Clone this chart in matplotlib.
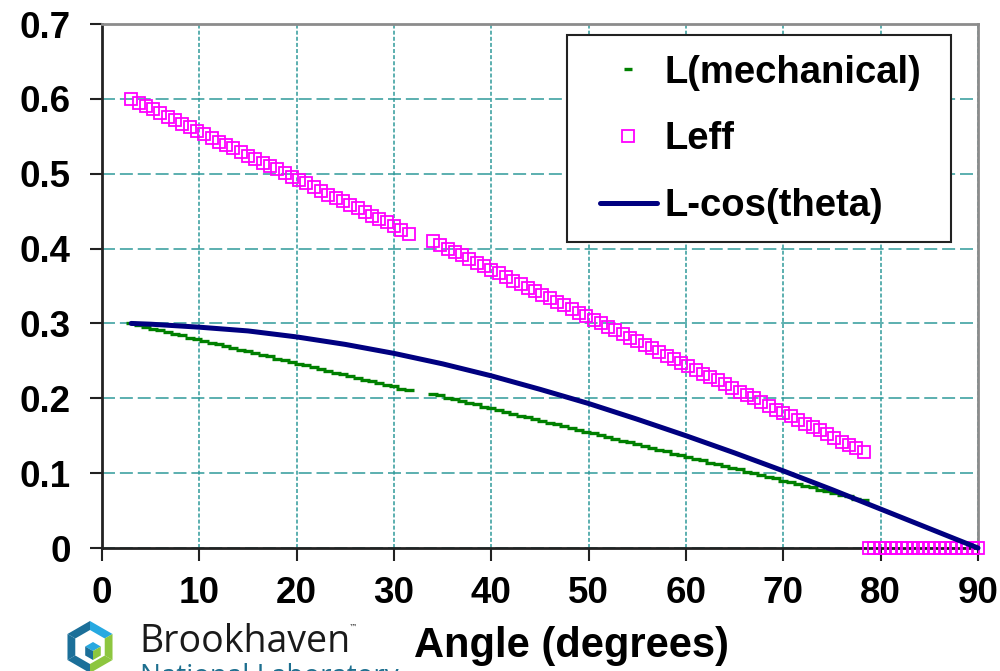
import numpy as np
import matplotlib
matplotlib.use("Agg")
import matplotlib.pyplot as plt
from matplotlib.lines import Line2D
from matplotlib.patches import Polygon, Rectangle

plt.rcParams['font.family'] = ['Liberation Sans', 'DejaVu Sans']
plt.rcParams['font.weight'] = 'bold'

# angle (deg), first run of samples
ang_a = [3.00, 3.75, 4.50, 5.25, 6.00, 6.75, 7.50, 8.25, 9.00, 9.75,
         10.50, 11.25, 12.00, 12.75, 13.50, 14.25, 15.00, 15.75, 16.50, 17.25,
         18.00, 18.75, 19.50, 20.25, 21.00, 21.75, 22.50, 23.25, 24.00, 24.75,
         25.50, 26.25, 27.00, 27.75, 28.50, 29.25, 30.00, 30.75, 31.50]
lmech_a = [0.300, 0.298, 0.295, 0.293, 0.291, 0.288, 0.286, 0.284, 0.281, 0.279,
           0.277, 0.274, 0.272, 0.270, 0.267, 0.265, 0.263, 0.260, 0.258, 0.256,
           0.253, 0.251, 0.249, 0.246, 0.244, 0.242, 0.239, 0.237, 0.234, 0.232,
           0.230, 0.227, 0.225, 0.223, 0.220, 0.218, 0.216, 0.213, 0.211]
leff_a = [0.600, 0.595, 0.591, 0.586, 0.581, 0.576, 0.572, 0.567, 0.562, 0.557,
          0.553, 0.548, 0.543, 0.539, 0.534, 0.529, 0.524, 0.520, 0.515, 0.510,
          0.506, 0.501, 0.496, 0.491, 0.487, 0.482, 0.477, 0.472, 0.468, 0.463,
          0.458, 0.454, 0.449, 0.444, 0.439, 0.435, 0.430, 0.425, 0.420]

# second run of samples
ang_b = [34.00, 34.75, 35.50, 36.25, 37.00, 37.75, 38.50, 39.25, 40.00, 40.75,
         41.50, 42.25, 43.00, 43.75, 44.50, 45.25, 46.00, 46.75, 47.50, 48.25,
         49.00, 49.75, 50.50, 51.25, 52.00, 52.75, 53.50, 54.25, 55.00, 55.75,
         56.50, 57.25, 58.00, 58.75, 59.50, 60.25, 61.00, 61.75, 62.50, 63.25,
         64.00, 64.75, 65.50, 66.25, 67.00, 67.75, 68.50, 69.25, 70.00, 70.75,
         71.50, 72.25, 73.00, 73.75, 74.50, 75.25, 76.00, 76.75, 77.50, 78.25]
lmech_b = [0.206, 0.204, 0.201, 0.199, 0.196, 0.194, 0.192, 0.189, 0.187, 0.184,
           0.182, 0.179, 0.177, 0.175, 0.172, 0.170, 0.167, 0.165, 0.163, 0.160,
           0.158, 0.155, 0.153, 0.151, 0.148, 0.146, 0.143, 0.141, 0.139, 0.136,
           0.134, 0.131, 0.129, 0.126, 0.124, 0.122, 0.119, 0.117, 0.114, 0.112,
           0.110, 0.107, 0.105, 0.102, 0.100, 0.098, 0.095, 0.093, 0.090, 0.088,
           0.085, 0.083, 0.081, 0.078, 0.076, 0.073, 0.071, 0.069, 0.066, 0.064]
leff_b = [0.410, 0.405, 0.400, 0.396, 0.391, 0.386, 0.381, 0.377, 0.372, 0.367,
          0.362, 0.357, 0.353, 0.348, 0.343, 0.338, 0.334, 0.329, 0.324, 0.319,
          0.314, 0.310, 0.305, 0.300, 0.295, 0.291, 0.286, 0.281, 0.276, 0.271,
          0.267, 0.262, 0.257, 0.252, 0.247, 0.243, 0.238, 0.233, 0.228, 0.224,
          0.219, 0.214, 0.209, 0.204, 0.200, 0.195, 0.190, 0.185, 0.181, 0.176,
          0.171, 0.166, 0.161, 0.157, 0.152, 0.147, 0.142, 0.138, 0.133, 0.128]

# Leff past the end of travel
ang_c = [78.80, 79.36, 79.92, 80.48, 81.04, 81.60, 82.16, 82.72, 83.28, 83.84,
         84.40, 84.96, 85.52, 86.08, 86.64, 87.20, 87.76, 88.32, 88.88, 89.44, 90.00]
leff_c = [0.0] * len(ang_c)

# L*cos(theta) curve
ang_cos = [3, 5, 10, 15, 20, 25, 30, 35, 40, 45, 50, 55, 60, 65, 70, 75, 80, 85, 90]
lcos = [0.300, 0.299, 0.295, 0.290, 0.282, 0.272, 0.260, 0.246, 0.230, 0.212,
        0.193, 0.172, 0.150, 0.127, 0.103, 0.078, 0.052, 0.026, 0.000]

xticks = [0, 10, 20, 30, 40, 50, 60, 70, 80, 90]
yticks = [0, 0.1, 0.2, 0.3, 0.4, 0.5, 0.6, 0.7]
ytick_labels = ['0', '0.1', '0.2', '0.3', '0.4', '0.5', '0.6', '0.7']

green = '#008000'
pink = '#ff00ff'
navy = '#000080'
teal = '#2f9a9a'

fig = plt.figure(figsize=(10, 6.71), dpi=100)
ax = fig.add_axes([0.102, 0.1833, 0.876, 0.7809])

ax.set_xlim(0, 90)
ax.set_ylim(0, 0.7)

# grid: long dashes across, short dashes up
ax.yaxis.grid(True, color=teal, lw=1.1, linestyle=(0, (8.5, 3.2)))
ax.xaxis.grid(True, color=teal, lw=1.1, linestyle=(0, (2.6, 1.4)))
ax.set_axisbelow(True)

# L(mechanical): short dash markers packed into a stepped line
for xs, ys in [(ang_a, lmech_a), (ang_b, lmech_b)]:
    ax.plot(xs, ys, ls='none', marker='_', ms=6.5, mew=2.4, color=green, zorder=3)

# Leff: open squares
for xs, ys in [(ang_a, leff_a), (ang_b, leff_b), (ang_c, leff_c)]:
    ax.plot(xs, ys, ls='none', marker='s', ms=8.3, mew=1.3, mfc='none',
            mec=pink, zorder=4, clip_on=False)

ax.plot(ang_cos, lcos, color=navy, lw=3.6, solid_capstyle='round', zorder=5,
        clip_on=False)

ax.set_xticks(xticks)
ax.set_yticks(yticks)
ax.set_yticklabels(ytick_labels)
ax.tick_params(axis='both', direction='out', labelsize=26.5, width=1.5, color='#222222')
ax.tick_params(axis='y', length=8.5, pad=14)
ax.tick_params(axis='x', length=9, pad=11)
for lbl in ax.get_xticklabels() + ax.get_yticklabels():
    lbl.set_fontweight('bold')

for side in ['left', 'bottom']:
    ax.spines[side].set_color('#222222')
    ax.spines[side].set_linewidth(2)
for side in ['top', 'right']:
    ax.spines[side].set_color('#8c8c8c')
    ax.spines[side].set_linewidth(2)

# legend box drawn separately so its padding can differ per side
box = Rectangle((0.567, 0.6393), 0.384, 0.3085, transform=fig.transFigure,
                facecolor='white', edgecolor='#222222', lw=1.5, zorder=6)
ax.add_patch(box)

handles = [
    Line2D([], [], ls='none', marker='_', ms=6, mew=2.4, color=green),
    Line2D([], [], ls='none', marker='s', ms=9, mew=1.3, mfc='none', mec=pink),
    Line2D([], [], color=navy, lw=3.6, solid_capstyle='round'),
]
leg = ax.legend(handles, ['L(mechanical)', 'Leff', 'L-cos(theta)'],
                loc='upper right', bbox_to_anchor=(0.969, 0.998),
                borderaxespad=0, frameon=False,
                prop={'size': 27.5, 'weight': 'bold'},
                handlelength=1.5, handletextpad=0.19, labelspacing=0.8,
                borderpad=0.78)
leg.set_zorder(7)

fig.text(0.571, 0.038, 'Angle (degrees)', ha='center', va='center',
         fontsize=30, fontweight='bold')

# lab logo at the foot of the figure
lax = fig.add_axes([0, 0, 1, 1], zorder=-1)
lax.set_xlim(0, 1000)
lax.set_ylim(671, 0)
lax.axis('off')


def hexpts(cx, cy, r):
    a = np.deg2rad([90, 30, -30, -90, -150, 150])
    return [(cx + r * np.cos(t), cy - r * np.sin(t)) for t in a]


cx, cy = 90, 647
outer = hexpts(cx, cy, 26)
edge_cols = ['#27a9e1', '#8dc63f', '#8dc63f', '#1b6f99', '#1b6f99', '#1b6f99']
for i, col in enumerate(edge_cols):
    lax.add_patch(Polygon([(cx, cy), outer[i], outer[(i + 1) % 6]],
                          closed=True, color=col, lw=0))
lax.add_patch(Polygon(hexpts(cx, cy, 17), closed=True, color='white', lw=0))
c = hexpts(cx + 3, cy + 4, 9)
ctr = (cx + 3, cy + 4)
lax.add_patch(Polygon([c[0], c[1], ctr, c[5]], closed=True, color='#27a9e1', lw=0))
lax.add_patch(Polygon([c[5], ctr, c[3], c[4]], closed=True, color='#1b6f99', lw=0))
lax.add_patch(Polygon([ctr, c[1], c[2], c[3]], closed=True, color='#8dc63f', lw=0))

lax.text(139, 642, 'Brookhaven', fontsize=27, family='Open Sans',
         fontweight='normal', color='#1a1a1a', va='center', ha='left')
lax.text(349, 627, '\u2122', fontsize=6, family='DejaVu Sans',
         fontweight='normal', color='#1a1a1a', va='center', ha='left')
lax.text(140, 677, 'National Laboratory', fontsize=20, family='Open Sans',
         fontweight='normal', color='#1d6f8f', va='center', ha='left')

fig.savefig('out.png', dpi=100)
